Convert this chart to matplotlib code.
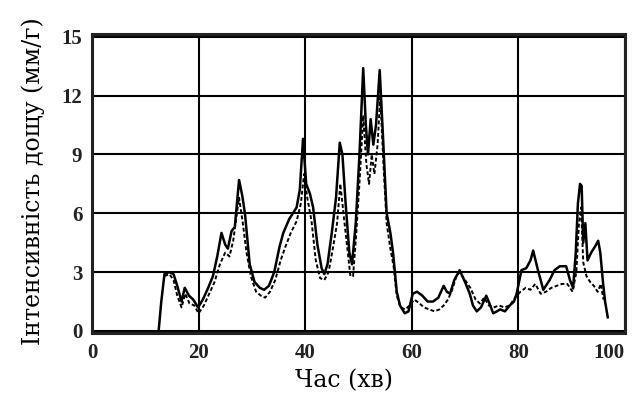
import matplotlib
matplotlib.use('Agg')
import matplotlib.pyplot as plt

# суцільна крива (інтенсивність дощу, мм/г)
solid_t = [12.5, 13.0, 13.6, 14.5, 15.3, 16.0, 16.8, 17.4, 18.2, 19.0, 19.9, 20.8,
           21.8, 22.7, 23.5, 24.3, 25.0, 25.5, 26.2, 26.8, 27.6, 28.2, 28.7, 29.6,
           30.5, 31.5, 32.3, 33.2, 34.2, 35.2, 35.9, 37.0, 38.4, 39.0, 39.6, 40.2,
           40.9, 41.5, 42.3, 43.1, 43.6, 44.2, 45.0, 45.8, 46.5, 47.0, 47.6, 48.3,
           48.8, 49.5, 50.2, 50.9, 51.4, 51.8, 52.3, 52.8, 53.3, 54.0, 54.6, 55.3,
           56.0, 56.5, 57.2, 57.8, 58.7, 59.4, 60.2, 61.0, 62.0, 63.0, 64.0, 65.0,
           66.0, 66.6, 67.2, 68.0, 69.0, 70.0, 70.9, 71.5, 72.2, 73.0, 74.0, 74.6,
           75.3, 76.0, 76.6, 77.5, 78.4, 79.2, 79.7, 80.6, 81.5, 82.3, 82.8, 83.7,
           84.7, 85.9, 86.8, 87.8, 89.0, 89.7, 90.3, 90.8, 91.2, 91.6, 91.9, 92.2,
           92.6, 93.0, 93.7, 94.4, 95.0, 95.4, 95.9, 96.3, 96.8]
solid_i = [0.0, 1.5, 2.9, 3.0, 2.9, 2.3, 1.5, 2.2, 1.8, 1.6, 1.2, 1.6,
           2.2, 2.8, 3.8, 5.0, 4.4, 4.2, 5.1, 5.3, 7.7, 6.9, 6.0, 3.4,
           2.5, 2.2, 2.1, 2.3, 3.0, 4.3, 5.0, 5.7, 6.3, 7.2, 9.8, 7.5,
           7.0, 6.3, 4.4, 3.2, 2.9, 3.4, 5.0, 6.8, 9.6, 9.0, 6.5, 4.0,
           3.4, 5.5, 9.0, 13.4, 10.5, 9.0, 10.8, 9.5, 10.5, 13.3, 10.0, 6.0,
           5.0, 4.0, 2.0, 1.3, 0.9, 1.0, 1.9, 2.0, 1.8, 1.5, 1.5, 1.7,
           2.3, 2.0, 1.9, 2.6, 3.1, 2.5, 1.9, 1.3, 1.0, 1.2, 1.8, 1.4,
           0.9, 1.0, 1.1, 1.0, 1.3, 1.5, 1.9, 3.1, 3.2, 3.6, 4.1, 3.1,
           2.1, 2.6, 3.1, 3.3, 3.3, 2.6, 2.2, 4.0, 6.5, 7.5, 7.4, 4.5,
           5.5, 3.6, 4.0, 4.3, 4.6, 4.0, 2.5, 1.5, 0.7]

# пунктирна крива
dash_t = [13.6, 14.5, 15.3, 16.0, 16.8, 17.5, 18.3, 19.2, 20.0, 21.0, 22.0, 23.0,
          24.0, 25.0, 25.8, 26.5, 27.6, 28.3, 29.0, 29.8, 30.8, 31.7, 32.5, 33.4,
          34.4, 35.4, 36.3, 37.3, 38.4, 39.2, 39.8, 40.4, 41.2, 42.0, 42.8, 43.6,
          44.4, 45.2, 46.0, 46.6, 47.2, 47.8, 48.5, 49.0, 49.6, 50.3, 50.9, 51.5,
          52.0, 52.5, 53.0, 53.6, 54.1, 54.7, 55.3, 56.0, 56.6, 57.2, 57.9, 58.8,
          59.6, 60.5, 61.5, 62.3, 63.3, 64.3, 65.2, 66.0, 66.8, 67.6, 68.4, 69.0,
          70.0, 71.0, 72.0, 72.8, 73.6, 74.5, 75.4, 76.4, 77.4, 78.4, 79.4, 80.4,
          81.4, 82.3, 83.2, 84.2, 85.2, 86.2, 87.2, 88.2, 89.2, 90.2, 90.9, 91.4,
          91.8, 92.2, 92.8, 93.5, 94.2, 94.9, 95.5, 96.0]
dash_i = [2.8, 2.9, 2.6, 1.8, 1.2, 1.9, 1.4, 1.3, 0.9, 1.3, 1.9, 2.5,
          3.4, 4.0, 3.8, 4.6, 6.8, 5.5, 4.0, 2.8, 2.0, 1.8, 1.7, 2.0,
          2.6, 3.6, 4.3, 5.0, 5.6, 6.5, 8.0, 6.8, 5.6, 3.6, 2.7, 2.6,
          3.0, 4.2, 5.5, 7.5, 6.0, 4.5, 2.8, 2.8, 5.0, 8.0, 11.0, 8.5,
          7.5, 9.0, 8.0, 9.5, 12.0, 8.5, 5.5, 4.2, 3.3, 1.8, 1.2, 1.1,
          1.3, 1.6, 1.4, 1.2, 1.1, 1.0, 1.1, 1.3, 1.6, 2.1, 2.8, 3.0,
          2.6, 2.2, 1.6, 1.4, 1.7, 1.3, 1.2, 1.3, 1.2, 1.3, 1.7, 2.0,
          2.2, 2.1, 2.4, 1.9, 2.0, 2.2, 2.3, 2.4, 2.4, 2.0, 3.0, 5.5,
          6.3, 3.5, 2.8, 2.5, 2.3, 2.0, 2.4, 1.6]

x_ticks = [0, 20, 40, 60, 80, 100]
y_ticks = [0, 3, 6, 9, 12, 15]

fig = plt.figure(figsize=(6.32, 3.94), dpi=100)
ax = fig.add_axes([0.1456, 0.155, 0.843, 0.759])

ax.plot(dash_t, dash_i, color='black', linewidth=1.4, linestyle=(0, (2, 1.2)))
ax.plot(solid_t, solid_i, color='black', linewidth=1.8)

ax.set_xlim(0, 100)
ax.set_ylim(-0.1, 15.15)
ax.set_xticks(x_ticks)
ax.set_yticks(y_ticks)
ax.grid(True, color='black', linewidth=1.5)
ax.set_axisbelow(True)

for s in ax.spines.values():
    s.set_linewidth(2.2)
    s.set_color('#222222')

ax.tick_params(length=0, pad=7, labelsize=15, labelcolor='#222222')
for lbl in ax.get_xticklabels() + ax.get_yticklabels():
    lbl.set_fontfamily('Liberation Serif')
    lbl.set_fontweight('bold')
# "100" притиснуто до правого краю, як в оригіналі
ax.get_xticklabels()[-1].set_horizontalalignment('right')
ax.get_xticklabels()[-1].set_x(101)

ax.set_xlabel('Час (хв)', fontsize=17, family='DejaVu Serif')
ax.set_ylabel('Інтенсивність дощу (мм/г)', fontsize=17, family='DejaVu Serif')
ax.xaxis.set_label_coords(0.473, -0.12)
ax.yaxis.set_label_coords(-0.088, 0.508)

fig.savefig('out.png', dpi=100)
